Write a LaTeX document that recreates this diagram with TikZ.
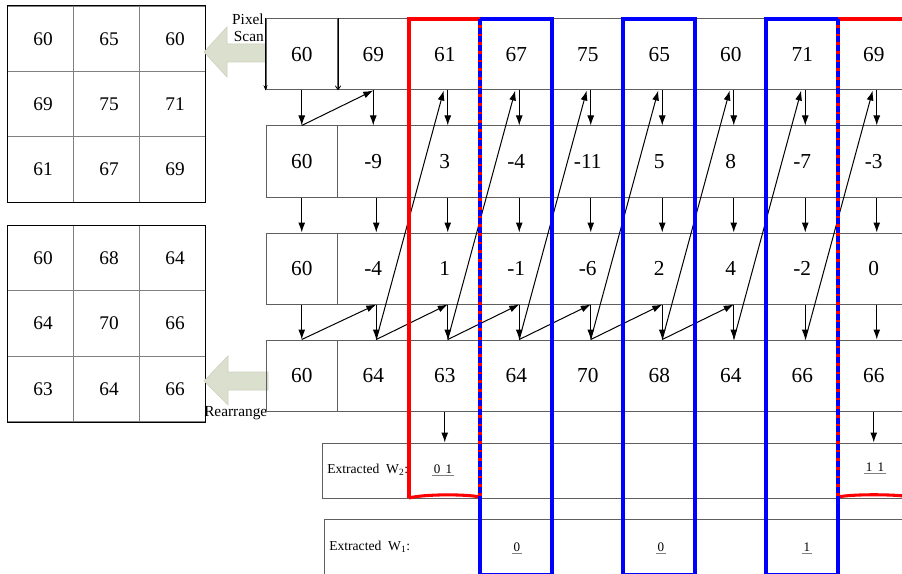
\documentclass[tikz,border=0pt]{standalone}
\usepackage{fontspec}
\setmainfont{Liberation Serif}
\usetikzlibrary{arrows.meta,calc}
\definecolor{sage}{RGB}{219,223,205}
\definecolor{sageedge}{RGB}{205,209,190}
\definecolor{gridgray}{RGB}{95,95,95}
\tikzset{
 cell/.style={draw=gridgray, line width=0.75pt, minimum width=53.625pt, minimum height=53.25pt, inner sep=0pt, font=\fontsize{16}{19}\selectfont},
 lcell/.style={draw=gray, line width=0.75pt, minimum width=49.5pt, minimum height=49pt, inner sep=0pt, font=\fontsize{14.5}{17}\selectfont, execute at begin node=\hspace*{4.5pt}},
 arr/.style={line width=0.75pt, -{Latex[length=7.5pt,width=5.2pt]}},
 redline/.style={draw=red, line width=2.3pt},
 blueline/.style={draw=blue, line width=3pt},
 bluedash/.style={draw=blue, line width=2.6pt, dash pattern=on 4.5pt off 2pt},
 lbl/.style={font=\fontsize{11.5}{13}\selectfont, inner sep=0pt},
 xlbl/.style={font=\fontsize{10.2}{12}\selectfont, inner sep=0pt},
 val/.style={font=\fontsize{9.8}{11}\selectfont, inner sep=1pt},
 uline/.style={draw=gray, line width=0.6pt},
 blockarrow/.style={fill=sage, draw=sageedge, line width=0.5pt},
 boxline/.style={draw=gridgray, line width=0.75pt}
}
\begin{document}
\begin{tikzpicture}[x=0.75pt,y=-0.75pt]
\useasboundingbox (0,0) rectangle (902,574);
% left grids
\foreach \v [count=\i from 0] in {60,65,60,69,75,71,61,67,69}{
  \pgfmathtruncatemacro{\cc}{mod(\i,3)}
  \pgfmathtruncatemacro{\rr}{int(\i/3)}
  \node[lcell] (a\i) at ({40+66*\cc},{38.7+65.33*\rr}) {\v};
}
\foreach \v [count=\i from 0] in {60,68,64,64,70,66,63,64,66}{
  \pgfmathtruncatemacro{\cc}{mod(\i,3)}
  \pgfmathtruncatemacro{\rr}{int(\i/3)}
  \node[lcell] (b\i) at ({40+66*\cc},{257.8+65.67*\rr}) {\v};
}
\draw[line width=0.75pt] (7,6) rectangle (205,202);
\draw[line width=0.75pt] (7,225) rectangle (205,422);
% block arrows
\filldraw[blockarrow] (266,44) -- (227,44) -- (227,27) -- (204,52) -- (227,77) -- (227,62) -- (266,62) -- cycle;
\filldraw[blockarrow] (268,372) -- (228,372) -- (228,356) -- (204,381) -- (228,405) -- (228,390) -- (268,390) -- cycle;
\node[lbl, anchor=east] (pix) at (264,19) {Pixel};
\node[lbl, anchor=east] (scan) at (264,37) {Scan};
\node[lbl, anchor=west] (rearr) at (204,413) {Rearrange};
% main grid
\foreach \v [count=\c] in {60,69,61,67,75,65,60,71,69}
  \node[cell] (r1c\c) at ({230.25+71.5*\c},54.5) {\v};
\foreach \v [count=\c] in {60,-9,3,-4,-11,5,8,-7,-3}
  \node[cell] (r2c\c) at ({230.25+71.5*\c},161.5) {\v};
\foreach \v [count=\c] in {60,-4,1,-1,-6,2,4,-2,0}
  \node[cell] (r3c\c) at ({230.25+71.5*\c},268.5) {\v};
\foreach \v [count=\c] in {60,64,63,64,70,68,64,66,66}
  \node[cell] (r4c\c) at ({230.25+71.5*\c},375.5) {\v};
% scan markers in row 1
\draw[line width=0.6pt, -{Stealth[length=4pt,width=3pt]}] (r1c1.north west) -- (r1c1.south west);
\draw[line width=0.6pt, -{Straight Barb[length=3pt,width=4pt]}] (r1c1.north east) -- (r1c1.south east);
% row1 -> row2
\draw[arr] (r1c1.south) -- (r2c1.north);
\draw[arr] (r1c2.south) -- (r2c2.north);
\draw[arr] (r2c1.north) -- (r1c2.south);
\foreach \c in {3,...,9}
  \draw[arr] ([xshift=2.25pt]r1c\c.south) -- ([xshift=2.25pt]r2c\c.north);
% row2 -> row3
\draw[arr] (r2c1.south) -- (r3c1.north);
\foreach \c in {2,...,9}
  \draw[arr] ([xshift=2.25pt]r2c\c.south) -- ([xshift=2.25pt]r3c\c.north);
% row3 -> row4
\draw[arr] (r3c1.south) -- (r4c1.north);
\foreach \c in {2,...,9}
  \draw[arr] ([xshift=2.25pt]r3c\c.south) -- ([xshift=2.25pt]r4c\c.north);
\draw[arr] (r4c1.north) -- ([xshift=2.25pt]r3c2.south);
\foreach \k/\n in {2/3,3/4,4/5,5/6,6/7}
  \draw[arr] ([xshift=2.25pt]r4c\k.north) -- ([xshift=2.25pt]r3c\n.south);
\foreach \k/\n in {2/3,3/4,4/5,5/6,6/7,7/8,8/9}
  \draw[arr] ([xshift=2.25pt]r4c\k.north) -- ([xshift=-0.75pt]r1c\n.south);
% extracted boxes
\node[boxline, minimum width=441pt, minimum height=41.25pt, inner sep=0pt] (w2) at (616,470.5) {};
\node[boxline, minimum width=439.5pt, minimum height=45.75pt, inner sep=0pt] (w1) at (617,549.5) {};
\draw[arr] (r4c3.south) -- (r4c3.south |- w2.north);
\draw[arr] (r4c9.south) -- (r4c9.south |- w2.north);
\node[xlbl, anchor=west] (w2lbl) at (327,470) {Extracted\ \ W\textsubscript{2}:};
\node[xlbl, anchor=west] (w1lbl) at (329,547) {Extracted\ \ W\textsubscript{1}:};
\node[val] (v21) at (443,469) {0\hspace{4pt}1};
\node[val] (v22) at (875,467) {1\hspace{4pt}1};
\node[val] (v11) at (517,547) {0};
\node[val] (v12) at (661,547) {0};
\node[val] (v13) at (807,547) {1};
\foreach \n in {v21,v22,v11,v12,v13}
  \draw[uline] (\n.south west) -- (\n.south east);
% coloured windows
\draw[redline] (409,498) -- (409,19) -- (480,19) -- (480,497);
\draw[redline] (409,498) .. controls (424,494) and (466,494) .. (480,497);
\draw[redline] (838,497) -- (838,19) -- (912,19);
\draw[redline] (838,497) .. controls (852,494) and (895,494) .. (912,497);
\draw[blueline] (480,497) -- (480,575) -- (552,575) -- (552,19) -- (480,19);
\draw[blueline] (623,575) rectangle (695,19);
\draw[blueline] (838,497) -- (838,575) -- (766,575) -- (766,19) -- (838,19);
\draw[bluedash] (480,19) -- (480,497);
\draw[bluedash] (838,19) -- (838,497);
\end{tikzpicture}
\end{document}
